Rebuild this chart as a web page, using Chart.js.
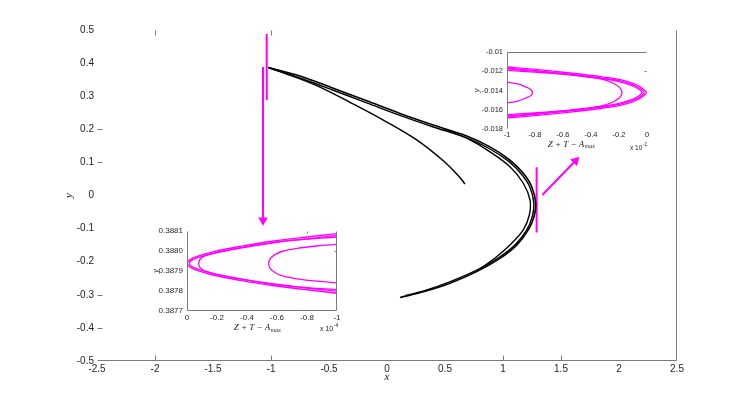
<!DOCTYPE html>
<html>
<head>
<meta charset="utf-8">
<script src="https://cdn.jsdelivr.net/npm/chart.js@4.4.1/dist/chart.umd.min.js"></script>
<style>
  html, body { margin: 0; padding: 0; background: #fff; }
  #wrap { position: relative; width: 747px; height: 405px; }
  #wrap canvas { position: absolute; left: 0; top: 0; }
</style>
</head>
<body>
<div id="wrap">
  <canvas id="mainChart" width="747" height="405"></canvas>
  <canvas id="insetTop" width="747" height="405"></canvas>
  <canvas id="insetBottom" width="747" height="405"></canvas>
</div>
<script>
// ---- main plot: strands of the attractor (x, y) ----
const strand1X = [-1.023, -0.75, -0.463, -0.175, 0.112, 0.399, 0.687, 0.888, 1.060, 1.175, 1.247, 1.282, 1.267, 1.218, 1.118, 0.974, 0.773, 0.543, 0.313, 0.112];
const strand1Y = [0.387, 0.361, 0.324, 0.286, 0.248, 0.213, 0.180, 0.147, 0.107, 0.067, 0.027, -0.024, -0.064, -0.104, -0.150, -0.190, -0.230, -0.265, -0.291, -0.308];
const strand2X = [-1.02, -0.75, -0.463, -0.175, 0.112, 0.399, 0.687, 0.88, 1.05, 1.16, 1.232, 1.266, 1.252, 1.205, 1.105, 0.962, 0.765, 0.54, 0.33, 0.16];
const strand2Y = [0.386, 0.355, 0.318, 0.280, 0.242, 0.207, 0.174, 0.142, 0.103, 0.064, 0.025, -0.024, -0.064, -0.104, -0.149, -0.188, -0.227, -0.261, -0.287, -0.302];
const strand3X = [0.48, 0.687, 0.888, 1.060, 1.175, 1.233, 1.227, 1.175, 1.075, 0.945, 0.80];
const strand3Y = [0.203, 0.173, 0.132, 0.087, 0.037, -0.014, -0.059, -0.104, -0.144, -0.185, -0.222];
const strand4X = [-1.023, -0.894, -0.606, -0.319, -0.032, 0.256, 0.485, 0.615, 0.672];
const strand4Y = [0.387, 0.371, 0.332, 0.2815, 0.228, 0.168, 0.105, 0.060, 0.035];

// magenta markers and arrows on the main plot
const markLeftX = [-1.037, -1.037];
const markLeftY = [0.488, 0.2885];
const arrowDownX = [-1.069, -1.069];
const arrowDownY = [0.388, -0.075];
const markRightX = [1.29, 1.29];
const markRightY = [0.085, -0.112];
const arrowUpX = [1.339, 1.625];
const arrowUpY = [0.0015, 0.105];

const mainXTicks = [-2.5, -2, -1.5, -1, -0.5, 0, 0.5, 1, 1.5, 2, 2.5];
const mainXLabels = ['-2.5', '-2', '-1.5', '-1', '-0.5', '0', '0.5', '1', '1.5', '2', '2.5'];
const mainYTicks = [-0.5, -0.4, -0.3, -0.2, -0.1, 0, 0.1, 0.2, 0.3, 0.4, 0.5];
const mainYLabels = ['-0.5', '-0.4', '-0.3', '-0.2', '-0.1', '0', '0.1', '0.2', '0.3', '0.4', '0.5'];

// ---- top right inset ----
const topAX = [-1, -0.78, -0.55, -0.31, -0.19, -0.095, -0.036, -0.005, -0.036, -0.095, -0.19, -0.31, -0.55, -0.78, -1];
const topAY = [-0.01156, -0.01183, -0.01218, -0.01260, -0.01287, -0.01329, -0.01374, -0.01421, -0.01468, -0.01513, -0.01555, -0.01582, -0.01624, -0.01659, -0.01686];
const topBX = [-1, -0.78, -0.55, -0.31, -0.19, -0.1, -0.045, -0.02, -0.045, -0.1, -0.19, -0.31, -0.55, -0.78, -1];
const topBY = [-0.01169, -0.01196, -0.01231, -0.01273, -0.01301, -0.01341, -0.01381, -0.01421, -0.01461, -0.01501, -0.01541, -0.01569, -0.01611, -0.01646, -0.01673];
const topCX = [-1, -0.78, -0.55, -0.31, -0.2, -0.11, -0.06, -0.035, -0.06, -0.11, -0.2, -0.31, -0.55, -0.78, -1];
const topCY = [-0.01176, -0.01203, -0.01238, -0.01280, -0.01308, -0.01347, -0.01385, -0.01421, -0.01457, -0.01495, -0.01534, -0.01562, -0.01604, -0.01639, -0.01666];
const topDX = [-1, -0.78, -0.55, -0.43, -0.31, -0.24, -0.195, -0.178, -0.195, -0.24, -0.31, -0.43, -0.55, -0.78, -1];
const topDY = [-0.01191, -0.01211, -0.01235, -0.01256, -0.01287, -0.01325, -0.01370, -0.01421, -0.01472, -0.01517, -0.01555, -0.01586, -0.01607, -0.01631, -0.01651];
const topEX = [-1, -0.924, -0.865, -0.829, -0.818, -0.829, -0.865, -0.924, -1];
const topEY = [-0.01312, -0.01332, -0.01364, -0.01391, -0.01421, -0.01451, -0.01478, -0.01510, -0.01530];
const topXTicks = [-1, -0.8, -0.6, -0.4, -0.2, 0];
const topXLabels = ['-1', '-0.8', '-0.6', '-0.4', '-0.2', '0'];
const topYTicks = [-0.018, -0.016, -0.014, -0.012, -0.01];
const topYLabels = ['-0.018', '-0.016', '-0.014', '-0.012', '-0.01'];

// ---- bottom left inset ----
const botAX = [-1, -0.8, -0.578, -0.356, -0.178, -0.067, -0.022, -0.002, -0.022, -0.067, -0.178, -0.356, -0.578, -0.8, -1];
const botAY = [0.388087, 0.38807, 0.38805, 0.388023, 0.387997, 0.387973, 0.387957, 0.387938, 0.387919, 0.387903, 0.387879, 0.387853, 0.387826, 0.387806, 0.387789];
const botBX = [-1, -0.8, -0.578, -0.356, -0.185, -0.075, -0.03, -0.016, -0.03, -0.075, -0.185, -0.356, -0.578, -0.8, -1];
const botBY = [0.388078, 0.388061, 0.388041, 0.388015, 0.38799, 0.387968, 0.387953, 0.387938, 0.387923, 0.387908, 0.387886, 0.387861, 0.387835, 0.387815, 0.387798];
const botCX = [-1, -0.689, -0.489, -0.333, -0.2, -0.122, -0.089, -0.078, -0.089, -0.122, -0.2, -0.333, -0.489, -0.689, -1];
const botCY = [0.38807, 0.388053, 0.388033, 0.388013, 0.387993, 0.387977, 0.38796, 0.387938, 0.387916, 0.387899, 0.387883, 0.387863, 0.387843, 0.387823, 0.387806];
const botDX = [-1, -0.867, -0.733, -0.644, -0.589, -0.556, -0.544, -0.556, -0.589, -0.644, -0.733, -0.867, -1];
const botDY = [0.388033, 0.388025, 0.388013, 0.388, 0.387983, 0.387962, 0.387937, 0.387912, 0.387891, 0.387874, 0.387861, 0.387849, 0.387841];
const botXTicks = [0, -0.2, -0.4, -0.6, -0.8, -1];
const botXLabels = ['0', '-0.2', '-0.4', '-0.6', '-0.8', '-1'];
const botYTicks = [0.3877, 0.3878, 0.3879, 0.388, 0.3881];
const botYLabels = ['0.3877', '0.3878', '0.3879', '0.3880', '0.3881'];

const MAGENTA = '#ff00ff';
const SANS = '"Liberation Sans", Arial, sans-serif';
const SERIF = '"Liberation Serif", "Times New Roman", serif';

function pts(xs, ys) {
  return xs.map((x, i) => ({ x: x, y: ys[i] }));
}

function curve(xs, ys, color, width) {
  return { data: pts(xs, ys), showLine: true, borderColor: color, borderWidth: width, pointRadius: 0, tension: 0.35, fill: false };
}

// MATLAB-like frame: border lines, inward ticks, tick labels, axis titles
const frame = {
  id: 'frame',
  beforeDatasetsDraw(chart, args, o) {
    if (!o.bg) return;
    const a = chart.chartArea, ctx = chart.ctx;
    ctx.save();
    ctx.fillStyle = o.bg;
    ctx.fillRect(a.left, a.top, a.right - a.left, a.bottom - a.top);
    ctx.restore();
  },
  afterDatasetsDraw(chart, args, o) {
    const { ctx, chartArea: a } = chart;
    const sx = chart.scales.x, sy = chart.scales.y;
    ctx.save();
    ctx.strokeStyle = '#7a7a7a';
    ctx.lineWidth = 1;
    const L = Math.round(a.left) + 0.5, R = Math.round(a.right) - 0.5;
    const T = Math.round(a.top) + 0.5, B = Math.round(a.bottom) - 0.5;
    const seg = (x1, y1, x2, y2) => { ctx.beginPath(); ctx.moveTo(x1, y1); ctx.lineTo(x2, y2); ctx.stroke(); };
    (o.sides || []).forEach(s => {
      if (s === 'left') seg(L, T, L, B);
      if (s === 'right') seg(R, T, R, B);
      if (s === 'top') seg(L, T, R, T);
      if (s === 'bottom') seg(L, B, R, B);
    });
    const k = o.tickLen || 4;
    (o.tBottom || []).forEach(v => { const p = Math.round(sx.getPixelForValue(v)) + 0.5; seg(p, B, p, B - k); });
    (o.tTop || []).forEach(v => { const p = Math.round(sx.getPixelForValue(v)) + 0.5; seg(p, T, p, T + k); });
    (o.tLeft || []).forEach(v => { const p = Math.round(sy.getPixelForValue(v)) + 0.5; seg(L, p, L + k, p); });
    (o.tRight || []).forEach(v => { const p = Math.round(sy.getPixelForValue(v)) + 0.5; seg(R, p, R - k, p); });

    ctx.fillStyle = '#1e1e1e';
    ctx.font = o.font;
    ctx.textAlign = 'center';
    ctx.textBaseline = 'top';
    o.xTicks.forEach((v, i) => ctx.fillText(o.xLabels[i], sx.getPixelForValue(v), a.bottom + o.xPad));
    ctx.textAlign = 'right';
    ctx.textBaseline = 'middle';
    o.yTicks.forEach((v, i) => ctx.fillText(o.yLabels[i], a.left - o.yPad, sy.getPixelForValue(v)));

    // y title
    ctx.save();
    ctx.translate(a.left - o.yTitleOff, (a.top + a.bottom) / 2);
    ctx.rotate(-Math.PI / 2);
    ctx.font = o.titleFont;
    ctx.textAlign = 'center';
    ctx.textBaseline = 'middle';
    ctx.fillText('y', 0, 0);
    ctx.restore();

    // x title, optionally with subscript
    const cx = (a.left + a.right) / 2 + (o.xTitleShift || 0);
    const ty = a.bottom + o.xTitleOff;
    ctx.textBaseline = 'middle';
    ctx.font = o.titleFont;
    if (o.xSub) {
      ctx.textAlign = 'left';
      const w1 = ctx.measureText(o.xTitle).width;
      ctx.font = o.subFont;
      const w2 = ctx.measureText(o.xSub).width;
      const x0 = cx - (w1 + w2) / 2;
      ctx.font = o.titleFont;
      ctx.fillText(o.xTitle, x0, ty);
      ctx.font = o.subFont;
      ctx.fillText(o.xSub, x0 + w1 + 0.5, ty + 2);
    } else {
      ctx.textAlign = 'center';
      ctx.fillText(o.xTitle, cx, ty);
    }

    // exponent note "x 10^n"
    if (o.expo) {
      ctx.textAlign = 'left';
      ctx.font = o.expBaseFont;
      const ex = a.right - 17, ey = a.bottom + o.expoOff;
      ctx.fillText('x 10', ex, ey);
      const w = ctx.measureText('x 10').width;
      ctx.font = o.expFont;
      ctx.fillText(o.expo, ex + w + 0.5, ey - 3);
    }
    ctx.restore();
  }
};

Chart.register(frame);

function hiddenScales(xMin, xMax, yMin, yMax, xRev) {
  return {
    x: { type: 'linear', min: xMin, max: xMax, reverse: !!xRev, display: false },
    y: { type: 'linear', min: yMin, max: yMax, display: false }
  };
}

const baseOpts = {
  responsive: false,
  animation: false,
  devicePixelRatio: 1,
  events: [],
  plugins: { legend: { display: false }, tooltip: { enabled: false } }
};

// main chart
new Chart(document.getElementById('mainChart'), {
  type: 'scatter',
  data: {
    datasets: [
      curve(strand1X, strand1Y, '#000', 1.6),
      curve(strand2X, strand2Y, '#000', 1.4),
      curve(strand3X, strand3Y, '#000', 1.4),
      curve(strand4X, strand4Y, '#000', 1.5),
      { data: pts(markLeftX, markLeftY), showLine: true, borderColor: MAGENTA, borderWidth: 2, pointRadius: 0 },
      { data: pts(arrowDownX, arrowDownY), showLine: true, borderColor: MAGENTA, borderWidth: 2,
        pointRadius: [0, 3.5], pointStyle: 'triangle', pointRotation: 180,
        pointBackgroundColor: MAGENTA, pointBorderColor: MAGENTA },
      { data: pts(markRightX, markRightY), showLine: true, borderColor: MAGENTA, borderWidth: 2, pointRadius: 0 },
      { data: pts(arrowUpX, arrowUpY), showLine: true, borderColor: MAGENTA, borderWidth: 2,
        pointRadius: [0, 3.5], pointStyle: 'triangle', pointRotation: 44,
        pointBackgroundColor: MAGENTA, pointBorderColor: MAGENTA }
    ]
  },
  options: Object.assign({}, baseOpts, {
    layout: { padding: { left: 97, right: 70, top: 30, bottom: 44 } },
    scales: hiddenScales(-2.5, 2.5, -0.5, 0.5),
    plugins: Object.assign({}, baseOpts.plugins, {
      frame: {
        sides: ['bottom', 'right'],
        tBottom: [-2, -1, 1, 1.5], tTop: [-2, -1], tLeft: [0.2, 0.1, -0.3, -0.4],
        tickLen: 5,
        xTicks: mainXTicks, xLabels: mainXLabels, yTicks: mainYTicks, yLabels: mainYLabels,
        font: '10px ' + SANS, xPad: 3, yPad: 3,
        titleFont: 'italic 11px ' + SERIF, xTitle: 'x', xTitleOff: 16, yTitleOff: 28
      }
    })
  })
});

// top right inset
new Chart(document.getElementById('insetTop'), {
  type: 'scatter',
  data: {
    datasets: [
      curve(topAX, topAY, MAGENTA, 1.3),
      curve(topBX, topBY, MAGENTA, 1.3),
      curve(topCX, topCY, MAGENTA, 1.3),
      curve(topDX, topDY, MAGENTA, 1.3),
      curve(topEX, topEY, MAGENTA, 1.3)
    ]
  },
  options: Object.assign({}, baseOpts, {
    layout: { padding: { left: 507, right: 100, top: 52, bottom: 276 } },
    scales: hiddenScales(-1, 0, -0.018, -0.01),
    plugins: Object.assign({}, baseOpts.plugins, {
      frame: {
        bg: '#fff', sides: ['left', 'top'], tRight: [-0.012], tickLen: 2,
        xTicks: topXTicks, xLabels: topXLabels, yTicks: topYTicks, yLabels: topYLabels,
        font: '7.5px ' + SANS, xPad: 2, yPad: 4,
        titleFont: 'italic 9px ' + SERIF, subFont: 'italic 6px ' + SERIF,
        xTitle: 'Z + T \u2212 A', xSub: 'max', xTitleOff: 15.5, xTitleShift: -6, yTitleOff: 30,
        expo: '-1', expFont: '5px ' + SANS, expBaseFont: '6.5px ' + SANS, expoOff: 19
      }
    })
  })
});

// bottom left inset
new Chart(document.getElementById('insetBottom'), {
  type: 'scatter',
  data: {
    datasets: [
      curve(botAX, botAY, MAGENTA, 1.4),
      curve(botBX, botBY, MAGENTA, 1.3),
      curve(botCX, botCY, MAGENTA, 1.3),
      curve(botDX, botDY, MAGENTA, 1.3)
    ]
  },
  options: Object.assign({}, baseOpts, {
    layout: { padding: { left: 187, right: 410, top: 231, bottom: 94 } },
    scales: hiddenScales(-1, 0, 0.3877, 0.3881, true),
    plugins: Object.assign({}, baseOpts.plugins, {
      frame: {
        bg: '#fff', sides: ['left', 'bottom', 'right'], tTop: [-0.8], tRight: [0.388], tickLen: 2,
        xTicks: botXTicks, xLabels: botXLabels, yTicks: botYTicks, yLabels: botYLabels,
        font: '8px ' + SANS, xPad: 3, yPad: 4,
        titleFont: 'italic 9px ' + SERIF, subFont: 'italic 6px ' + SERIF,
        xTitle: 'Z + T \u2212 A', xSub: 'max', xTitleOff: 17, xTitleShift: -5, yTitleOff: 31,
        expo: '-4', expFont: '5px ' + SANS, expBaseFont: '7px ' + SANS, expoOff: 18
      }
    })
  })
});
</script>
</body>
</html>
